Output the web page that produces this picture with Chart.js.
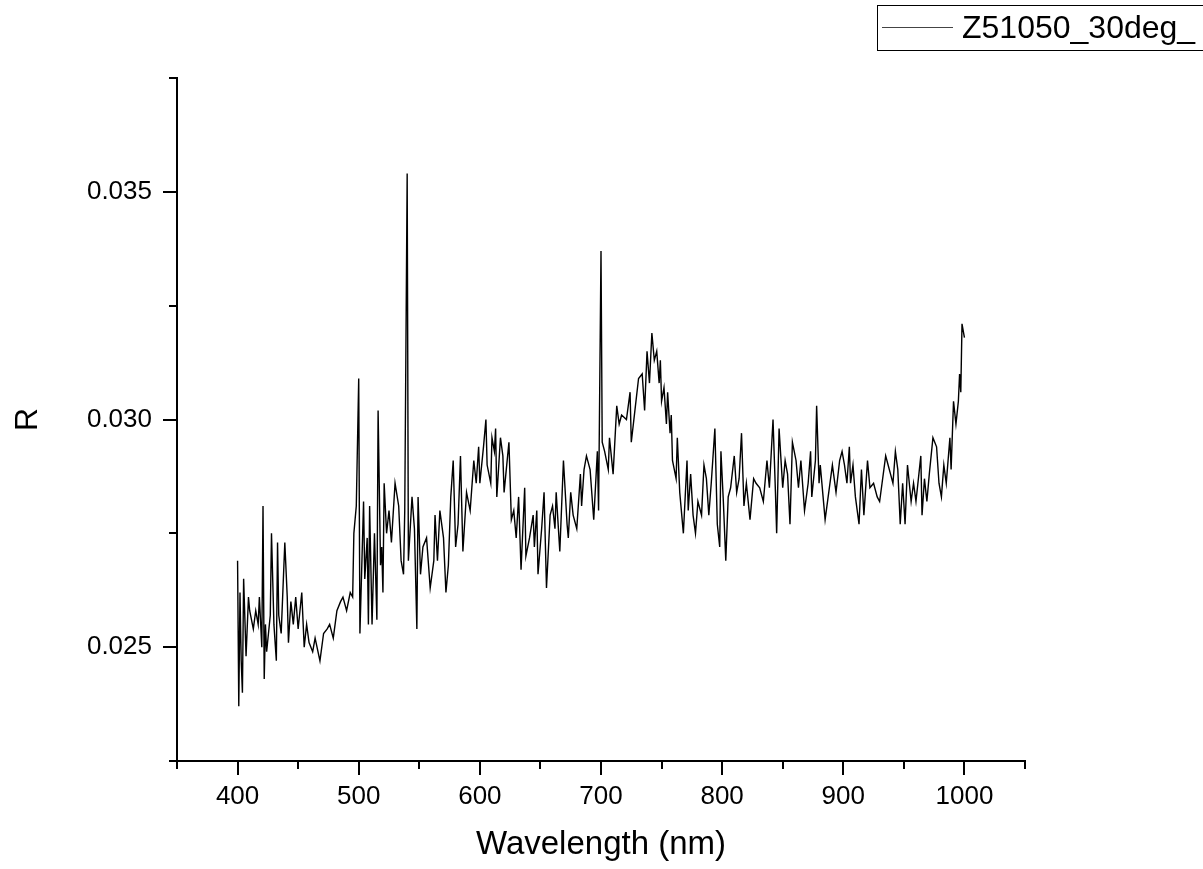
<!DOCTYPE html>
<html>
<head>
<meta charset="utf-8">
<script src="https://cdn.jsdelivr.net/npm/chart.js@4/dist/chart.umd.min.js"></script>
<style>
  html, body { margin: 0; padding: 0; background: #fff; }
  #wrap { position: relative; width: 1203px; height: 869px; }
</style>
</head>
<body>
<div id="wrap"><canvas id="spectrum"></canvas></div>
<script>
/* ---------------- DATA ---------------- */
const SERIES_NAME = "Z51050_30deg_";
const X_TITLE = "Wavelength (nm)";
const Y_TITLE = "R";

// wavelength (nm)
const WAVELENGTH = [
  400,401,402,403,404,405,407,409,410,413,415,417,418,420,421,422,423,424,427,428,
  430,432,433,434,436,439,441,442,444,446,448,450,453,455,457,459,462,464,468,471,
  474,476,479,482,485,487,490,493,495,496,498,500,501,504,505,507,508,509,511,513,
  515,516,518,519,520,521,523,525,527,530,533,535,537,538,540,541,544,546,548,549,
  551,553,556,559,562,563,565,567,570,572,574,576,578,580,582,584,586,589,592,595,
  597,599,600,603,605,606,609,610,612,613,614,617,619,620,624,626,628,630,632,634,
  637,638,641,644,645,647,648,651,653,655,658,660,662,663,666,669,672,673,675,677,
  680,683,684,686,688,691,694,697,698,700,701,703,706,707,710,713,715,717,721,724,
  725,728,731,734,736,738,740,742,744,746,748,749,750,752,754,755,757,758,759,762,
  763,765,768,771,772,774,776,778,780,783,785,787,789,791,794,796,798,799,801,803,
  805,807,810,812,814,816,818,820,823,826,828,831,834,837,839,842,844,845,847,850,
  852,854,856,858,861,863,865,868,871,873,874,877,878,880,881,883,885,888,891,894,
  897,899,901,903,905,906,908,910,913,915,917,920,922,925,928,930,932,935,937,939,
  941,943,945,947,949,951,953,956,958,960,964,965,967,969,971,974,977,979,981,983,
  985,988,989,991,993,995,996,997,998,1000
];

// reflectance R
const R_VALUES = [
  0.0269,0.0237,0.0262,0.0247,0.0240,0.0265,0.0248,0.0261,0.0258,0.0254,0.0258,0.0255,0.0261,0.0250,0.0281,0.0243,0.0255,0.0249,0.0257,0.0275,
  0.0255,0.0247,0.0273,0.0257,0.0253,0.0273,0.0261,0.0251,0.0260,0.0255,0.0261,0.0254,0.0262,0.0250,0.0255,0.0251,0.0249,0.0252,0.0247,0.0253,
  0.0254,0.0255,0.0252,0.0258,0.0260,0.0261,0.0258,0.0262,0.0261,0.0275,0.0281,0.0309,0.0253,0.0282,0.0265,0.0274,0.0255,0.0281,0.0255,0.0275,
  0.0256,0.0302,0.0268,0.0272,0.0262,0.0286,0.0275,0.0280,0.0273,0.0286,0.0281,0.0269,0.0266,0.0280,0.0354,0.0269,0.0283,0.0276,0.0254,0.0283,
  0.0266,0.0272,0.0274,0.0263,0.0269,0.0279,0.0269,0.0280,0.0274,0.0262,0.0268,0.0283,0.0291,0.0272,0.0277,0.0292,0.0271,0.0284,0.0280,0.0291,
  0.0286,0.0294,0.0286,0.0294,0.0300,0.0290,0.0286,0.0296,0.0293,0.0298,0.0283,0.0296,0.0292,0.0284,0.0295,0.0278,0.0280,0.0274,0.0283,0.0267,
  0.0285,0.0270,0.0274,0.0279,0.0272,0.0280,0.0266,0.0276,0.0284,0.0263,0.0279,0.0281,0.0276,0.0284,0.0271,0.0291,0.0277,0.0274,0.0284,0.0279,
  0.0276,0.0288,0.0281,0.0289,0.0292,0.0289,0.0278,0.0293,0.0280,0.0337,0.0295,0.0293,0.0289,0.0296,0.0288,0.0303,0.0299,0.0301,0.0300,0.0306,
  0.0295,0.0302,0.0309,0.0310,0.0302,0.0315,0.0308,0.0319,0.0313,0.0315,0.0308,0.0313,0.0304,0.0307,0.0299,0.0306,0.0297,0.0301,0.0291,0.0287,
  0.0296,0.0284,0.0275,0.0291,0.0280,0.0288,0.0279,0.0275,0.0282,0.0279,0.0290,0.0287,0.0279,0.0286,0.0298,0.0277,0.0272,0.0293,0.0282,0.0269,
  0.0283,0.0285,0.0292,0.0284,0.0287,0.0297,0.0281,0.0286,0.0278,0.0287,0.0286,0.0285,0.0282,0.0291,0.0285,0.0300,0.0284,0.0275,0.0298,0.0285,
  0.0291,0.0288,0.0277,0.0295,0.0291,0.0285,0.0291,0.0280,0.0286,0.0293,0.0283,0.0291,0.0303,0.0286,0.0290,0.0284,0.0278,0.0284,0.0290,0.0284,
  0.0291,0.0293,0.0290,0.0286,0.0294,0.0286,0.0290,0.0283,0.0277,0.0289,0.0279,0.0291,0.0285,0.0286,0.0283,0.0282,0.0286,0.0292,0.0290,0.0288,
  0.0286,0.0293,0.0289,0.0277,0.0286,0.0277,0.0290,0.0282,0.0286,0.0282,0.0292,0.0279,0.0287,0.0282,0.0288,0.0296,0.0294,0.0286,0.0283,0.0290,
  0.0286,0.0296,0.0289,0.0304,0.0299,0.0304,0.0310,0.0306,0.0321,0.0318
];

// axis ticks
const X_MAJOR = [400, 500, 600, 700, 800, 900, 1000];
const X_MINOR = [350, 450, 550, 650, 750, 850, 950, 1050];
const Y_MAJOR = [0.025, 0.030, 0.035];
const Y_MINOR = [0.0225, 0.0275, 0.0325, 0.0375];
/* -------------------------------------- */

const FONT = "'Liberation Sans', Arial, sans-serif";

/* Origin-style ticks pointing outwards, long for major, short for minor */
const outerTicks = {
  id: 'outerTicks',
  afterDraw(chart){
    const ctx = chart.ctx;
    const xs = chart.scales.x, ys = chart.scales.y;
    const area = chart.chartArea;
    ctx.save();
    ctx.strokeStyle = '#000';
    ctx.lineWidth = 2;
    ctx.beginPath();
    // axis line runs a little past the y axis, like the original
    ctx.moveTo(area.left - 7, area.bottom);
    ctx.lineTo(area.left, area.bottom);
    X_MAJOR.forEach(v => { const p = Math.round(xs.getPixelForValue(v)); ctx.moveTo(p, area.bottom); ctx.lineTo(p, area.bottom + 14); });
    X_MINOR.forEach(v => { const p = Math.round(xs.getPixelForValue(v)); ctx.moveTo(p, area.bottom); ctx.lineTo(p, area.bottom + 8); });
    Y_MAJOR.forEach(v => { const p = Math.round(ys.getPixelForValue(v)); ctx.moveTo(area.left, p); ctx.lineTo(area.left - 14, p); });
    Y_MINOR.forEach(v => { const p = Math.round(ys.getPixelForValue(v)); ctx.moveTo(area.left, p); ctx.lineTo(area.left - 8, p); });
    ctx.stroke();
    ctx.restore();
  }
};

/* Legend box in the top right corner, cut by the edge as in the original */
const cornerLegend = {
  id: 'cornerLegend',
  afterDraw(chart){
    const ctx = chart.ctx;
    ctx.save();
    ctx.strokeStyle = '#000';
    ctx.lineWidth = 1;
    ctx.strokeRect(877.5, 5.5, 400, 45);
    ctx.strokeStyle = '#444';
    ctx.beginPath();
    ctx.moveTo(882, 27.5);
    ctx.lineTo(953, 27.5);
    ctx.stroke();
    ctx.fillStyle = '#000';
    ctx.font = '32px ' + FONT;
    ctx.textBaseline = 'alphabetic';
    ctx.fillText(SERIES_NAME, 962, 38);
    ctx.restore();
  }
};

const points = WAVELENGTH.map((w, i) => ({ x: w, y: R_VALUES[i] }));

new Chart(document.getElementById('spectrum'), {
  type: 'line',
  data: {
    datasets: [{
      label: SERIES_NAME,
      data: points,
      borderColor: '#000',
      borderWidth: 1.4,
      pointRadius: 0,
      tension: 0,
      fill: false
    }]
  },
  options: {
    responsive: true,
    maintainAspectRatio: false,
    animation: false,
    layout: { padding: { top: 78, right: 178, bottom: 0, left: 0 } },
    plugins: { legend: { display: false }, tooltip: { enabled: false } },
    scales: {
      x: {
        type: 'linear',
        min: 350, max: 1050,
        afterBuildTicks: s => { s.ticks = X_MAJOR.map(v => ({ value: v })); },
        afterFit: s => { s.height = 108; },
        grid: { display: false, drawTicks: false },
        border: { display: true, color: '#000', width: 2 },
        ticks: { color: '#000', padding: 20, font: { family: FONT, size: 26 }, callback: v => String(v) },
        title: { display: true, text: X_TITLE, color: '#000', font: { family: FONT, size: 33 }, padding: { top: 4, bottom: 4 } }
      },
      y: {
        type: 'linear',
        min: 0.0225, max: 0.0375,
        afterBuildTicks: s => { s.ticks = Y_MAJOR.map(v => ({ value: v })); },
        afterFit: s => { s.width = 177; },
        grid: { display: false, drawTicks: false },
        border: { display: true, color: '#000', width: 2 },
        ticks: { color: '#000', padding: 25, font: { family: FONT, size: 26 }, callback: v => Number(v).toFixed(3) },
        title: { display: true, text: Y_TITLE, color: '#000', font: { family: FONT, size: 32 }, padding: { top: 9, bottom: 8 } }
      }
    }
  },
  plugins: [outerTicks, cornerLegend]
});
</script>
</body>
</html>
